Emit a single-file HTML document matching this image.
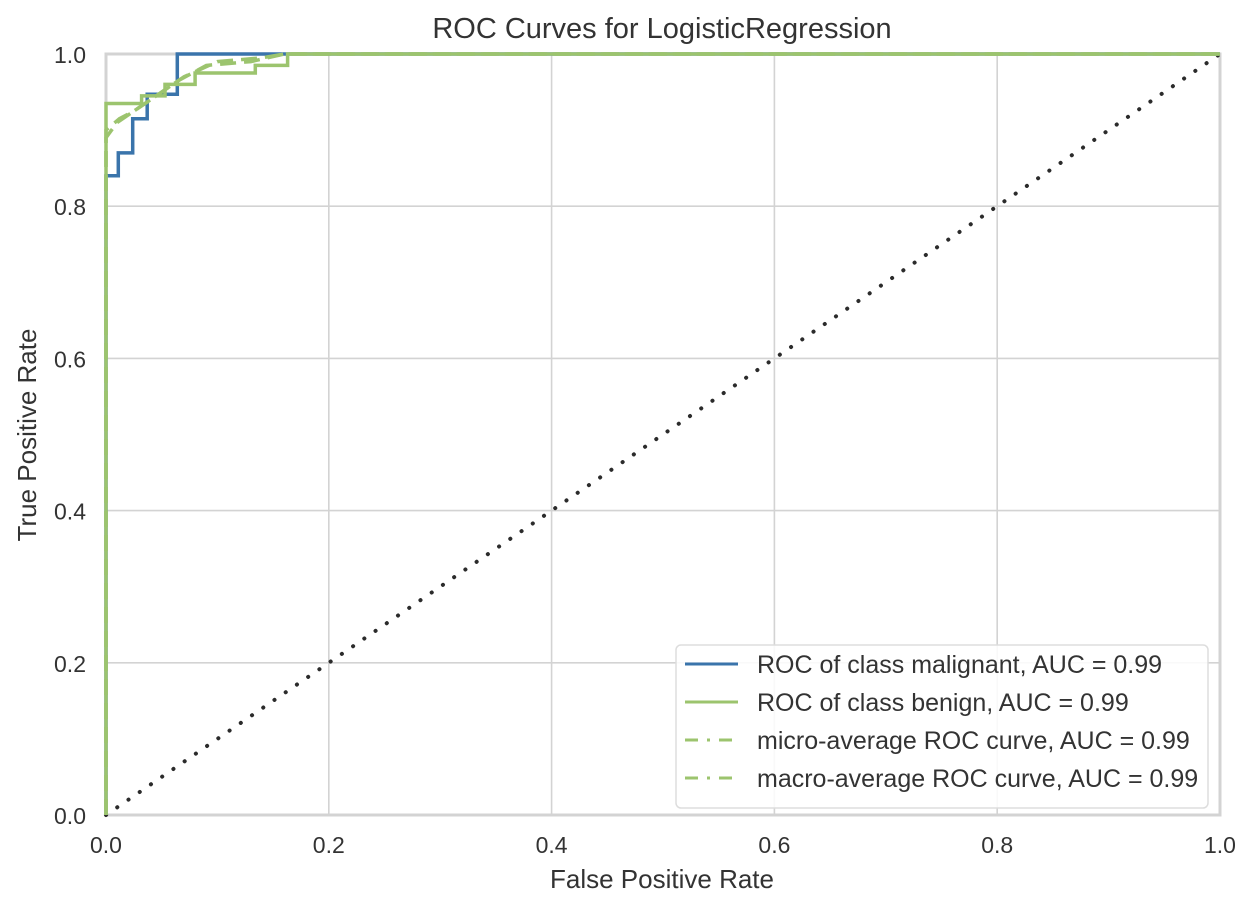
<!DOCTYPE html>
<html><head><meta charset="utf-8"><style>
html,body{margin:0;padding:0;background:#fff;}
svg text{font-family:"Liberation Sans",sans-serif;fill:#333;}
</style></head><body>
<svg id="chart" width="1248" height="908" xmlns="http://www.w3.org/2000/svg">
<rect width="1248" height="908" fill="#fff"/>
<g id="grid"></g>
<g id="ticks"></g>
<rect x="106" y="54" width="1114" height="761" fill="none" stroke="#d3d3d3" stroke-width="3"/>
<g id="series"></g>
<text x="662" y="38" font-size="29" text-anchor="middle">ROC Curves for LogisticRegression</text>
<text x="662" y="888" font-size="26" text-anchor="middle">False Positive Rate</text>
<text x="36" y="435" font-size="26" text-anchor="middle" transform="rotate(-90 36 435)">True Positive Rate</text>
<g>
<rect x="676" y="645" width="532" height="163" rx="5" fill="#fff" fill-opacity="0.85" stroke="#ddd" stroke-width="1.5"/>
<g id="legend"></g>
</g>
</svg>
<script>
const ticks = [0, 0.2, 0.4, 0.6, 0.8, 1.0];
const tickLabels = ["0.0", "0.2", "0.4", "0.6", "0.8", "1.0"];
const malignantFpr = [0, 0, 0.011, 0.011, 0.024, 0.024, 0.037, 0.037, 0.064, 0.064, 1];
const malignantTpr = [0, 0.84, 0.84, 0.87, 0.87, 0.915, 0.915, 0.947, 0.947, 1, 1];
const benignFpr = [0, 0, 0.032, 0.032, 0.053, 0.053, 0.08, 0.08, 0.134, 0.134, 0.163, 0.163, 1];
const benignTpr = [0, 0.935, 0.935, 0.945, 0.945, 0.96, 0.96, 0.975, 0.975, 0.985, 0.985, 1, 1];
const microFpr = [0, 0, 0.01, 0.02, 0.035, 0.05, 0.065, 0.09, 0.13, 0.16, 1];
const microTpr = [0, 0.89, 0.91, 0.92, 0.935, 0.95, 0.965, 0.985, 0.99, 1, 1];
const macroFpr = [0, 0, 0.012, 0.025, 0.04, 0.055, 0.07, 0.1, 0.14, 0.16, 1];
const macroTpr = [0, 0.9, 0.915, 0.925, 0.94, 0.955, 0.97, 0.99, 0.995, 1, 1];
const legendLabels = ["ROC of class malignant, AUC = 0.99","ROC of class benign, AUC = 0.99","micro-average ROC curve, AUC = 0.99","macro-average ROC curve, AUC = 0.99"];

const NS="http://www.w3.org/2000/svg";
const X0=106,X1=1220,Y0=815,Y1=54;
const sx=v=>X0+v*(X1-X0), sy=v=>Y0-v*(Y0-Y1);
function mk(tag,attrs,parent){const e=document.createElementNS(NS,tag);for(const k in attrs)e.setAttribute(k,attrs[k]);parent.appendChild(e);return e;}
const grid=document.getElementById('grid'), tk=document.getElementById('ticks'), ser=document.getElementById('series'), leg=document.getElementById('legend');
ticks.forEach((t,i)=>{
  let g=mk('line',{x1:sx(t),x2:sx(t),y1:Y0,y2:Y1,stroke:'#d3d3d3','stroke-width':1.6},grid);
  
  
  g=mk('line',{x1:X0,x2:X1,y1:sy(t),y2:sy(t),stroke:'#d3d3d3','stroke-width':1.6},grid);
  
  
  let a=mk('text',{x:sx(t),y:Y0+38,'font-size':23,'text-anchor':'middle'},tk);a.textContent=tickLabels[i];
  
  
  let b=mk('text',{x:X0-20,y:sy(t)+9,'font-size':23,'text-anchor':'end'},tk);b.textContent=tickLabels[i];
  
  
});
const pts=(xs,ys)=>xs.map((x,i)=>sx(x).toFixed(1)+','+sy(ys[i]).toFixed(1)).join(' ');
const BLUE='#3a74ab', GREEN='#9cc46e';
let d=mk('polyline',{points:pts([0,1],[0,1]),fill:'none',stroke:'#2b2b2b','stroke-width':4,'stroke-dasharray':'0.1 13.5','stroke-linecap':'round'},ser);


let p=mk('polyline',{points:pts(malignantFpr,malignantTpr),fill:'none',stroke:BLUE,'stroke-width':3.5},ser);


p=mk('polyline',{points:pts(benignFpr,benignTpr),fill:'none',stroke:GREEN,'stroke-width':3.5},ser);


p=mk('polyline',{points:pts(microFpr,microTpr),fill:'none',stroke:GREEN,'stroke-width':3.5,'stroke-dasharray':'16 8'},ser);


p=mk('polyline',{points:pts(macroFpr,macroTpr),fill:'none',stroke:GREEN,'stroke-width':3.5,'stroke-dasharray':'16 8'},ser);


const legY=[664,702,740,778], legC=[BLUE,GREEN,GREEN,GREEN], legD=['','','13 9 3 9','13 9 3 9'];
legendLabels.forEach((l,i)=>{
  const ln=mk('line',{x1:685,x2:738,y1:legY[i],y2:legY[i],stroke:legC[i],'stroke-width':3},leg);
  if(legD[i])ln.setAttribute('stroke-dasharray',legD[i]);
  
  
  const t=mk('text',{x:757,y:legY[i]+9,'font-size':25},leg);t.textContent=l;
  
  
});
</script>
</body></html>
